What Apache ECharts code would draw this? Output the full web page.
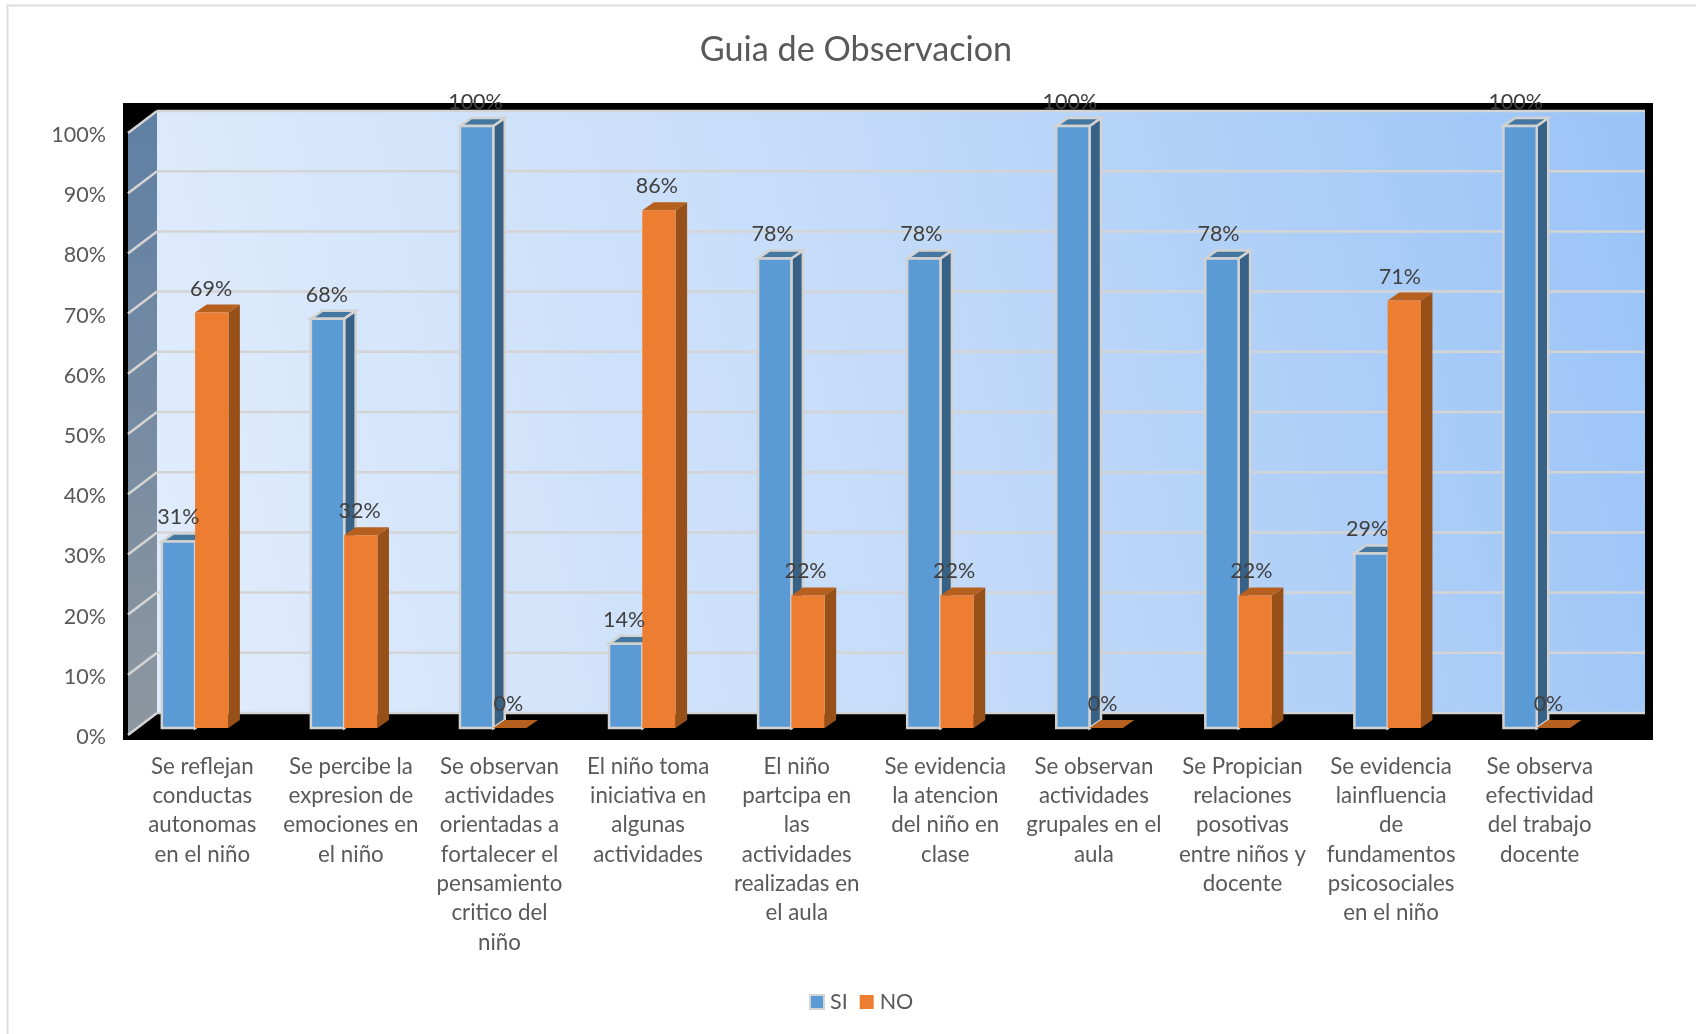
<!DOCTYPE html>
<html><head><meta charset="utf-8">
<style>html,body{margin:0;padding:0;background:#fff}#c{width:1696px;height:1034px}</style>
<script src="https://cdn.jsdelivr.net/npm/echarts@6/dist/echarts.min.js"></script>
</head><body><div id="c"></div>
<script>
const categories = [
  "Se reflejan\nconductas\nautonomas\nen el niño",
  "Se percibe la\nexpresion de\nemociones en\nel niño",
  "Se observan\nactividades\norientadas a\nfortalecer el\npensamiento\ncritico del\nniño",
  "El niño toma\niniciativa en\nalgunas\nactividades",
  "El niño\npartcipa en\nlas\nactividades\nrealizadas en\nel aula",
  "Se evidencia\nla atencion\ndel niño en\nclase",
  "Se observan\nactividades\ngrupales en el\naula",
  "Se Propician\nrelaciones\nposotivas\nentre niños y\ndocente",
  "Se evidencia\nlainfluencia\nde\nfundamentos\npsicosociales\nen el niño",
  "Se observa\nefectividad\ndel trabajo\ndocente"
];
const si = [31, 68, 100, 14, 78, 78, 100, 78, 29, 100];
const no = [69, 32, 0, 86, 22, 22, 0, 22, 71, 0];
const yTicks = [0, 10, 20, 30, 40, 50, 60, 70, 80, 90, 100];

const FONT = 'Lato';
const GRID = {left: 128, top: 133, width: 1486, height: 602};
const BACK = {dx: 29, dy: -22};
const BAR = {depthX: 11.5, depthY: -8, planeDy: -7};
const GRIDLINE = '#d4d4d4';

function barSeries(name, values, side, cols, bordered, z2) {
  return {
    name, type: 'custom', coordinateSystem: 'cartesian2d', z: 3,
    itemStyle: {color: cols.front, borderColor: bordered ? '#d4d4d4' : cols.front, borderWidth: bordered ? 1 : 0},
    data: values.map((v, i) => [i, v]),
    clip: false,
    renderItem(params, api) {
      const i = api.value(0), v = api.value(1);
      const top = api.coord([i, v]), base = api.coord([i, 0]);
      const w = api.size([1, 0])[0] * 0.224;
      const cx = top[0] - 7.2 + 0.47 * i;
      const x0 = side < 0 ? cx - w : cx, x1 = x0 + w;
      const yT = top[1] + BAR.planeDy, yB = base[1] + BAR.planeDy;
      const dX = BAR.depthX, dY = BAR.depthY;
      const st = bordered ? {stroke: '#d2d2d2', lineWidth: 2.5} : {stroke: null};
      const kids = [
        {type: 'polygon', z2, shape: {points: [[x1, yT], [x1 + dX, yT + dY], [x1 + dX, yB + dY], [x1, yB]]}, style: {fill: cols.side, ...st}},
        {type: 'polygon', z2, shape: {points: [[x0, yT], [x1, yT], [x1 + dX, yT + dY], [x0 + dX, yT + dY]]}, style: {fill: cols.top, ...st}}
      ];
      if (v > 0) kids.push({type: 'rect', z2: z2 + 1, shape: {x: x0, y: yT, width: w, height: yB - yT}, style: {fill: cols.front, ...st}});
      kids.push({type: 'text', z2: 20, style: {
        x: top[0] - 7.6 + side * 16.4, y: yT - 24, text: v + '%', align: 'center', verticalAlign: 'middle',
        fill: '#404040', font: '21.5px ' + FONT
      }});
      return {type: 'group', children: kids};
    }
  };
}

const option = {
  animation: false,
  backgroundColor: '#fff',
  textStyle: {fontFamily: FONT},
  title: {
    text: 'Guia de Observacion', left: 851, top: 25, textAlign: 'center',
    textStyle: {fontFamily: FONT, fontSize: 34.2, fontWeight: 'normal', color: '#595959', lineHeight: 40}
  },
  grid: {...GRID, containLabel: false},
  legend: {
    left: 804, top: 986, itemWidth: 14, itemHeight: 14, itemGap: 12, icon: 'rect',
    textStyle: {fontFamily: FONT, fontSize: 21.5, color: '#595959', padding: [0, 0, 0, 1]},
    data: [
      {name: 'SI', itemStyle: {color: '#5b9bd5', borderColor: '#d4d4d4', borderWidth: 2}},
      {name: 'NO', itemStyle: {color: '#ed7d31', borderWidth: 0}}
    ]
  },
  xAxis: {
    type: 'category', data: categories,
    axisLine: {show: false}, axisTick: {show: false},
    axisLabel: {interval: 0, margin: 17, color: '#595959', fontFamily: FONT, fontSize: 22.3, lineHeight: 29.3, align: 'center', verticalAlign: 'top'}
  },
  yAxis: {
    type: 'value', min: 0, max: 100, interval: 10,
    axisLine: {show: false}, axisTick: {show: false}, splitLine: {show: false},
    axisLabel: {margin: 22, color: '#595959', fontFamily: FONT, fontSize: 21.5, formatter: '{value}%', verticalAlign: 'top', lineHeight: 4}
  },
  graphic: {elements: [
    {type: 'rect', silent: true, z: -10, shape: {x: 7.5, y: 5.5, width: 1700, height: 1040}, style: {fill: '#fff', stroke: '#dedede', lineWidth: 2}},
    {type: 'rect', silent: true, z: -9, shape: {x: 123, y: 103, width: 1530, height: 637}, style: {fill: '#000'}},
    {type: 'rect', silent: true, z: -8, shape: {x: GRID.left + BACK.dx, y: GRID.top + BACK.dy, width: GRID.width + 2, height: GRID.height},
      style: {fill: new echarts.graphic.LinearGradient(0, 0.75, 1, 0.15, [
        {offset: 0, color: '#e0ecfc'}, {offset: 0.5, color: '#c4dbf9'}, {offset: 1, color: '#9bc4f7'}])}},
    {type: 'polygon', silent: true, z: -8,
      shape: {points: [[GRID.left, GRID.top], [GRID.left + BACK.dx, GRID.top + BACK.dy], [GRID.left + BACK.dx, GRID.top + GRID.height + BACK.dy], [GRID.left, GRID.top + GRID.height]]},
      style: {fill: new echarts.graphic.LinearGradient(0, 0, 0, 1, [
        {offset: 0, color: '#5f7fa4'}, {offset: 1, color: '#8e979f'}])}}
  ]},
  series: [
    {
      name: 'wallGrid', type: 'custom', coordinateSystem: 'cartesian2d', z: 1, silent: true, clip: false,
      data: yTicks.map(t => [0, t]),
      renderItem(params, api) {
        const p = api.coord([0, api.value(1)]);
        const xL = GRID.left, yF = p[1];
        const xB = xL + BACK.dx, yB = yF + BACK.dy;
        return {type: 'group', children: [
          {type: 'line', shape: {x1: xB, y1: yB, x2: xL + GRID.width + BACK.dx + 2, y2: yB}, style: {stroke: GRIDLINE, lineWidth: 2.5}},
          {type: 'line', shape: {x1: xL, y1: yF, x2: xB, y2: yB}, style: {stroke: GRIDLINE, lineWidth: 2.5}}
        ]};
      }
    },
    barSeries('SI', si, -1, {front: '#5b9bd5', side: '#386186', top: '#44779f'}, true, 2),
    barSeries('NO', no, 1, {front: '#ed7d31', side: '#985019', top: '#b5601f'}, false, 6)
  ]
};
const chart = echarts.init(document.getElementById('c'), null, {renderer: 'canvas'});
chart.setOption(option);
</script></body></html>
